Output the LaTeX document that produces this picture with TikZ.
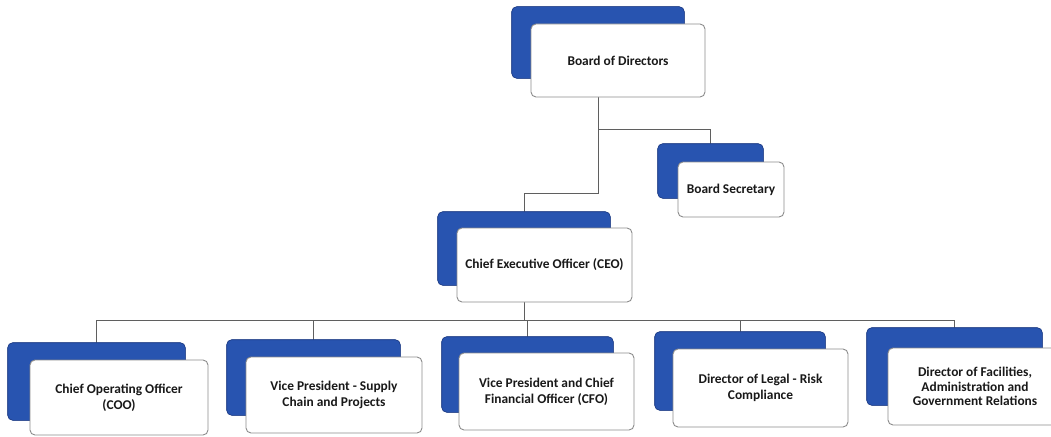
\documentclass[tikz,border=0pt]{standalone}
\usepackage{fontspec}
\setmainfont{Carlito}
\usetikzlibrary{calc}
\definecolor{boxblue}{RGB}{40,84,176}
\definecolor{boxblueedge}{RGB}{28,58,130}
\definecolor{edgegray}{RGB}{140,140,140}
\definecolor{linegray}{RGB}{95,95,95}
\definecolor{txt}{RGB}{25,25,25}
\begin{document}
\begin{tikzpicture}[x=1pt,y=-1pt,
  bluebox/.style={draw=boxblueedge,fill=boxblue,rounded corners=5pt,line width=0.6pt,inner sep=0pt},
  whitebox/.style={draw=edgegray,fill=white,rounded corners=5pt,line width=0.9pt,inner sep=0pt,
     align=center,font=\fontsize{13.4}{16}\selectfont\bfseries,text=txt},
  conn/.style={draw=linegray,line width=0.9pt}]
\useasboundingbox[fill=white] (0,0) rectangle (1051,436);
\clip (0,0) rectangle (1051,436);
% coordinates for connector levels
\coordinate (brY) at (0,129);
\coordinate (busY) at (0,320);
% blue back boxes (positions)
\path node[bluebox,minimum width=172pt,minimum height=71pt] (bb) at (598,42.5) {};
\path node[bluebox,minimum width=105pt,minimum height=54pt] (sb) at (710.5,171) {};
\path node[bluebox,minimum width=172pt,minimum height=73pt] (cb) at (524,248.5) {};
\path node[bluebox,minimum width=177pt,minimum height=77pt] (b1) at (96.5,381.5) {};
\path node[bluebox,minimum width=173pt,minimum height=75pt] (b2) at (313.5,377.5) {};
\path node[bluebox,minimum width=171pt,minimum height=75pt] (b3) at (527.5,374.5) {};
\path node[bluebox,minimum width=170pt,minimum height=78pt] (b4) at (740,371) {};
\path node[bluebox,minimum width=175pt,minimum height=77pt] (b5) at (954.5,366.5) {};
% connectors (behind boxes)
\draw[conn] (bb.south |- brY) -| (sb.north);
\coordinate (ceojog) at ($(cb.north)+(0,-18)$);
\draw[conn] (bb.south) |- (ceojog) -- (cb.north);
\draw[conn] (cb.south) -- (cb.south |- busY);
\draw[conn] (b1.north |- busY) -- (b5.north |- busY);
\foreach \n in {b1,b2,b3,b4,b5} {\draw[conn] (\n.north |- busY) -- (\n.north);}
% redraw blue boxes above lines
\foreach \n in {bb,sb,cb,b1,b2,b3,b4,b5} {\fill[boxblue,rounded corners=5pt] (\n.south west) rectangle (\n.north east);
  \draw[boxblueedge,line width=0.6pt,rounded corners=5pt] (\n.south west) rectangle (\n.north east);}
% white front boxes
\node[whitebox,minimum width=174pt,minimum height=73pt] (bw) at (618,60.5) {Board of Directors};
\node[whitebox,minimum width=106pt,minimum height=55pt] (sw) at (731,189.5) {Board Secretary};
\node[whitebox,minimum width=175pt,minimum height=74pt] (cw) at (544.5,265) {Chief Executive Officer (CEO)};
\node[whitebox,minimum width=178pt,minimum height=75pt] (w1) at (119,397.5) {Chief Operating Officer\\(COO)};
\node[whitebox,minimum width=176pt,minimum height=76pt] (w2) at (334,395) {Vice President - Supply\\Chain and Projects};
\node[whitebox,minimum width=175pt,minimum height=77pt] (w3) at (546.5,391.5) {Vice President and Chief\\Financial Officer (CFO)};
\node[whitebox,minimum width=175pt,minimum height=78pt] (w4) at (760.5,388) {Director of Legal - Risk\\Compliance};
\node[whitebox,minimum width=174pt,minimum height=77pt,font=\fontsize{13.4}{14.5}\selectfont\bfseries] (w5) at (975,386.5) {Director of Facilities,\\Administration and\\Government Relations};
\end{tikzpicture}
\end{document}
